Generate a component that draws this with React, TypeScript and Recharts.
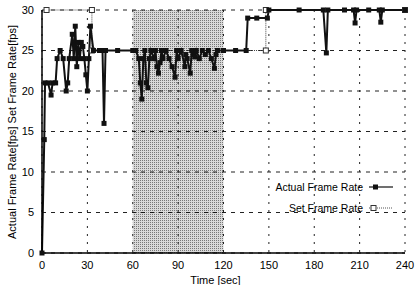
import { LineChart, Line, XAxis, YAxis, CartesianGrid, ReferenceArea } from "recharts"

// axis ticks
const timeTicks = [0, 30, 60, 90, 120, 150, 180, 210, 240]
const rateTicks = [0, 5, 10, 15, 20, 25, 30]

const actualTime = [
  0, 1.5, 2, 4, 6, 7, 9, 10, 12, 14, 16, 17, 18, 20, 21, 22, 23, 24, 25, 26, 27, 28, 29, 30, 31, 32,
  34, 38, 40, 41, 42, 50, 60, 62, 64, 65, 66, 67, 68, 69, 70, 71, 72, 74, 75, 76, 77, 78, 79, 80, 82,
  84, 86, 88, 89, 90, 92, 94.5, 95, 96, 98, 99, 100, 101, 102, 104, 106, 108, 110, 112, 114, 115, 116,
  120, 128, 135, 136, 142, 149, 150, 170, 186, 188, 189, 200, 206, 207, 208, 216, 223, 224, 225, 240,
]
const actualRate = [
  0, 14, 21, 21, 19.5, 21, 21, 24, 25, 24, 20, 21, 24, 27, 24, 28, 23, 26, 24, 26, 25.5, 24, 22, 20, 24, 28,
  25, 25, 25, 16, 25, 25, 25, 25, 24, 21, 19, 24, 25, 21, 20.4, 24, 25, 24, 25, 23, 22.2, 23.5, 25, 24, 25,
  24, 23, 21.7, 25, 24, 25, 23, 24.5, 24, 22.2, 25, 24.5, 24.2, 25, 24, 25, 24.5, 25, 24, 22.8, 24.5, 25,
  25, 25, 25, 29, 29, 29, 30, 30, 30, 24.7, 30, 30, 30, 28.4, 30, 30, 30, 28.5, 30, 30,
]

// requested frame rate
const setTime = [3, 33, 33, 148, 148, 240]
const setRate = [30, 30, 25, 25, 30, 30]

// shaded interval
const shadeFrom = 60
const shadeTo = 120

const actualData = actualTime.map((t, i) => ({ t, v: actualRate[i] }))
const setData = setTime.map((t, i) => ({ t, v: setRate[i] }))

const font = "'Liberation Sans', Arial, Helvetica, sans-serif"

const ActualDot = (props: any) => {
  const { cx, cy, index } = props
  return <rect key={`a-${index}`} x={cx - 2.5} y={cy - 2.5} width={5} height={5} fill="#111" />
}

const SetDot = (props: any) => {
  const { cx, cy, index } = props
  return (
    <rect key={`s-${index}`} x={cx - 2.5} y={cy - 2.5} width={5} height={5} fill="#fff" stroke="#333" strokeWidth={1} />
  )
}

const YLabel = () => (
  <text x={12} y={132} transform="rotate(-90 12 132)" textAnchor="middle" dominantBaseline="central" fill="#000" fontSize={11}>
    Actual Frame Rate[fps]   Set Frame Rate[fps]
  </text>
)

const legendRow = { display: "flex", justifyContent: "flex-end", alignItems: "center", height: 21 } as const

export default function App() {
  return (
    <div style={{ position: "absolute", left: 0, top: 0, width: 415, height: 285, background: "#fff" }}>
      <LineChart
        width={415}
        height={285}
        margin={{ top: 10, right: 10, left: 0, bottom: 0 }}
        style={{ fontFamily: font }}
      >
        <defs>
          <pattern id="stipple" width={2} height={2} patternUnits="userSpaceOnUse">
            <rect x={0} y={0} width={2} height={2} fill="#000" fillOpacity={0.15} />
            <rect x={0} y={0} width={1} height={1} fill="#000" fillOpacity={0.45} />
          </pattern>
        </defs>
        <ReferenceArea x1={shadeFrom} x2={shadeTo} y1={0} y2={30} fill="url(#stipple)" fillOpacity={1} stroke="none" />
        <CartesianGrid vertical={false} stroke="#222" strokeDasharray="4 5" />
        <CartesianGrid horizontal={false} stroke="#222" strokeDasharray="2 6" />
        <XAxis
          dataKey="t"
          type="number"
          domain={[0, 240]}
          ticks={timeTicks}
          height={32}
          tickLine={false}
          axisLine={{ stroke: "#000", strokeWidth: 1.5 }}
          tick={{ fill: "#000", fontSize: 11 }}
          label={{ value: "Time [sec]", position: "insideBottom", offset: 1, dx: -8, fill: "#000", fontSize: 11 }}
          allowDuplicatedCategory={false}
        />
        <XAxis xAxisId="top" orientation="top" type="number" domain={[0, 240]} height={0} tick={false} tickLine={false} axisLine={{ stroke: "#000" }} />
        <YAxis
          type="number"
          domain={[0, 30]}
          ticks={rateTicks}
          width={42}
          tickLine={false}
          axisLine={{ stroke: "#000", strokeWidth: 1.5 }}
          tick={{ fill: "#000", fontSize: 11 }}
          label={<YLabel />}
        />
        <YAxis yAxisId="right" orientation="right" type="number" domain={[0, 30]} width={0} tick={false} tickLine={false} axisLine={{ stroke: "#444" }} />
        <Line
          data={setData}
          dataKey="v"
          type="linear"
          stroke="#444"
          strokeWidth={1}
          strokeDasharray="1 1"
          dot={SetDot}
          isAnimationActive={false}
        />
        <Line
          data={actualData}
          dataKey="v"
          type="linear"
          stroke="#111"
          strokeWidth={2}
          dot={ActualDot}
          isAnimationActive={false}
        />
      </LineChart>
      <div style={{ position: "absolute", left: 205, top: 176, width: 190, fontFamily: font, fontSize: 10.5, color: "#000" }}>
        <div style={legendRow}>
          <span>Actual Frame Rate</span>
          <svg width={28} height={10} style={{ marginLeft: 4 }}>
            <line x1={2} y1={5} x2={26} y2={5} stroke="#111" strokeWidth={1.2} />
            <rect x={6} y={2.5} width={5} height={5} fill="#111" />
          </svg>
        </div>
        <div style={legendRow}>
          <span>Set Frame Rate</span>
          <svg width={28} height={10} style={{ marginLeft: 4 }}>
            <line x1={2} y1={5} x2={26} y2={5} stroke="#555" strokeWidth={1} strokeDasharray="1 1" />
            <rect x={4} y={2.5} width={5} height={5} fill="#fff" stroke="#333" />
          </svg>
        </div>
      </div>
    </div>
  )
}
